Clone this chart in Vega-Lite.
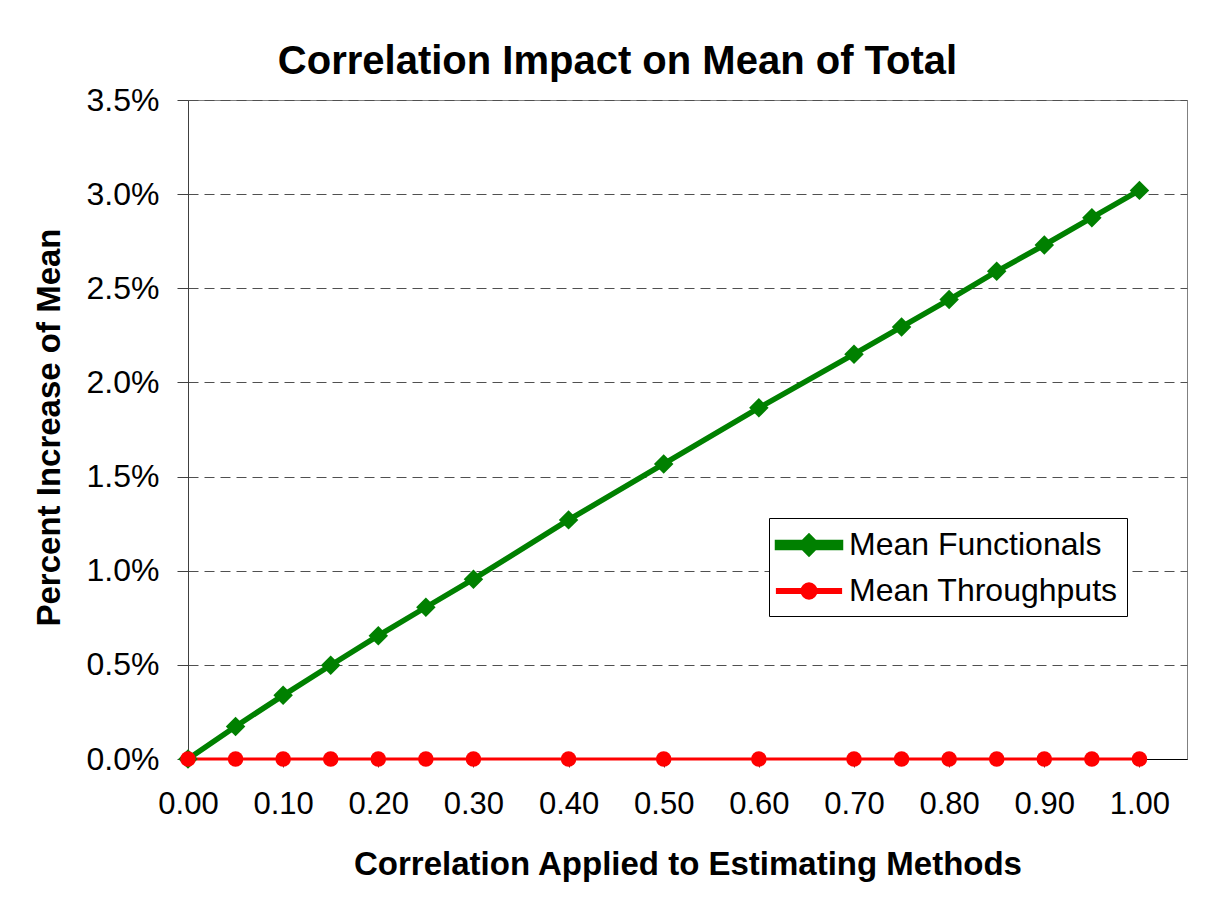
{
  "$schema": "https://vega.github.io/schema/vega-lite/v6.json",
  "width": 999,
  "height": 659,
  "autosize": "none",
  "padding": {"left": 188, "top": 100, "right": 20, "bottom": 140},
  "background": "white",
  "title": {
    "text": "Correlation Impact on Mean of Total",
    "font": "Liberation Sans",
    "fontSize": 40,
    "fontWeight": "bold",
    "color": "black",
    "anchor": "middle",
    "dx": -70,
    "baseline": "alphabetic",
    "offset": -30
  },
  "config": {
    "view": {"stroke": "#808080", "strokeWidth": 1},
    "font": "Liberation Sans",
    "legend": {
      "title": null,
      "orient": "none",
      "legendX": 581,
      "legendY": 418,
      "strokeColor": "black",
      "fillColor": "white",
      "padding": 9,
      "labelFont": "Liberation Sans",
      "labelFontSize": 32,
      "labelColor": "black",
      "labelLimit": 0,
      "labelOffset": 35,
      "rowPadding": 9,
      "symbolSize": 900,
      "symbolStrokeWidth": 0
    }
  },
  "data": {
    "values": [
      {"x": 0.00, "series": "Mean Functionals", "value": 0.0},
      {"x": 0.05, "series": "Mean Functionals", "value": 0.00173},
      {"x": 0.10, "series": "Mean Functionals", "value": 0.00338},
      {"x": 0.15, "series": "Mean Functionals", "value": 0.00498},
      {"x": 0.20, "series": "Mean Functionals", "value": 0.00655},
      {"x": 0.25, "series": "Mean Functionals", "value": 0.00806},
      {"x": 0.30, "series": "Mean Functionals", "value": 0.00955},
      {"x": 0.40, "series": "Mean Functionals", "value": 0.0127},
      {"x": 0.50, "series": "Mean Functionals", "value": 0.01567},
      {"x": 0.60, "series": "Mean Functionals", "value": 0.01865},
      {"x": 0.70, "series": "Mean Functionals", "value": 0.0215},
      {"x": 0.75, "series": "Mean Functionals", "value": 0.02295},
      {"x": 0.80, "series": "Mean Functionals", "value": 0.0244},
      {"x": 0.85, "series": "Mean Functionals", "value": 0.0259},
      {"x": 0.90, "series": "Mean Functionals", "value": 0.0273},
      {"x": 0.95, "series": "Mean Functionals", "value": 0.02875},
      {"x": 1.00, "series": "Mean Functionals", "value": 0.0302},
      {"x": 0.00, "series": "Mean Throughputs", "value": 0.0},
      {"x": 0.05, "series": "Mean Throughputs", "value": 0.0},
      {"x": 0.10, "series": "Mean Throughputs", "value": 0.0},
      {"x": 0.15, "series": "Mean Throughputs", "value": 0.0},
      {"x": 0.20, "series": "Mean Throughputs", "value": 0.0},
      {"x": 0.25, "series": "Mean Throughputs", "value": 0.0},
      {"x": 0.30, "series": "Mean Throughputs", "value": 0.0},
      {"x": 0.40, "series": "Mean Throughputs", "value": 0.0},
      {"x": 0.50, "series": "Mean Throughputs", "value": 0.0},
      {"x": 0.60, "series": "Mean Throughputs", "value": 0.0},
      {"x": 0.70, "series": "Mean Throughputs", "value": 0.0},
      {"x": 0.75, "series": "Mean Throughputs", "value": 0.0},
      {"x": 0.80, "series": "Mean Throughputs", "value": 0.0},
      {"x": 0.85, "series": "Mean Throughputs", "value": 0.0},
      {"x": 0.90, "series": "Mean Throughputs", "value": 0.0},
      {"x": 0.95, "series": "Mean Throughputs", "value": 0.0},
      {"x": 1.00, "series": "Mean Throughputs", "value": 0.0}
    ]
  },
  "encoding": {
    "x": {
      "field": "x",
      "type": "quantitative",
      "scale": {"domain": [0, 1.05], "nice": false, "zero": false},
      "axis": {
        "values": [0, 0.1, 0.2, 0.3, 0.4, 0.5, 0.6, 0.7, 0.8, 0.9, 1.0],
        "format": ".2f",
        "grid": false,
        "title": "Correlation Applied to Estimating Methods",
        "titleFont": "Liberation Sans",
        "titleFontSize": 33,
        "titleFontWeight": "bold",
        "titleColor": "black",
        "titleBaseline": "middle",
        "titleY": 105,
        "labelFont": "Liberation Sans",
        "labelFontSize": 31,
        "labelColor": "black",
        "labelPadding": 22,
        "labelFlush": false,
        "labelOverlap": false,
        "tickSize": 8,
        "tickColor": "#404040",
        "domainColor": "black",
        "domainWidth": 1
      }
    },
    "y": {
      "field": "value",
      "type": "quantitative",
      "scale": {"domain": [0, 0.035], "nice": false},
      "axis": {
        "values": [0, 0.005, 0.01, 0.015, 0.02, 0.025, 0.03, 0.035],
        "format": ".1%",
        "grid": true,
        "gridDash": [10, 6],
        "gridColor": "#505050",
        "gridWidth": 1,
        "title": "Percent Increase of Mean",
        "titleFont": "Liberation Sans",
        "titleFontSize": 33,
        "titleFontWeight": "bold",
        "titleColor": "black",
        "titleBaseline": "middle",
        "titleX": -139,
        "titleY": 327,
        "labelFont": "Liberation Sans",
        "labelFontSize": 32,
        "labelColor": "black",
        "labelPadding": 18,
        "labelFlush": false,
        "labelOverlap": false,
        "tickSize": 11,
        "tickColor": "#404040",
        "domainColor": "#404040",
        "domainWidth": 1
      }
    },
    "color": {
      "field": "series",
      "type": "nominal",
      "scale": {"domain": ["Mean Functionals", "Mean Throughputs"], "range": ["#008000", "#ff0000"]},
      "legend": {
        "encode": {
          "symbols": {
            "update": {
              "x": {"value": 31},
              "shape": {"signal": "datum.value === 'Mean Functionals' ? 'M-2.1,-0.17L2.1,-0.17L2.1,0.17L-2.1,0.17Z M0,-0.55L0.55,0L0,0.55L-0.55,0Z' : 'M-2.1,-0.1L2.1,-0.1L2.1,0.1L-2.1,0.1Z M-0.47,0A0.47,0.47 0 1,1 0.47,0A0.47,0.47 0 1,1 -0.47,0Z'"},
              "fill": {"signal": "datum.value === 'Mean Functionals' ? '#008000' : '#ff0000'"},
              "stroke": {"value": "transparent"},
              "strokeWidth": {"value": 0},
              "opacity": {"value": 1}
            }
          }
        }
      }
    }
  },
  "layer": [
    {
      "mark": {"type": "line", "interpolate": "linear"},
      "encoding": {
        "strokeWidth": {
          "field": "series",
          "type": "nominal",
          "scale": {"domain": ["Mean Functionals", "Mean Throughputs"], "range": [5.5, 3.2]},
          "legend": null
        }
      }
    },
    {
      "transform": [{"filter": "datum.series === 'Mean Functionals'"}],
      "mark": {"type": "point", "filled": true, "opacity": 1, "shape": "diamond", "size": 380}
    },
    {
      "transform": [{"filter": "datum.series === 'Mean Throughputs'"}],
      "mark": {"type": "point", "filled": true, "opacity": 1, "shape": "circle", "size": 240}
    }
  ]
}
